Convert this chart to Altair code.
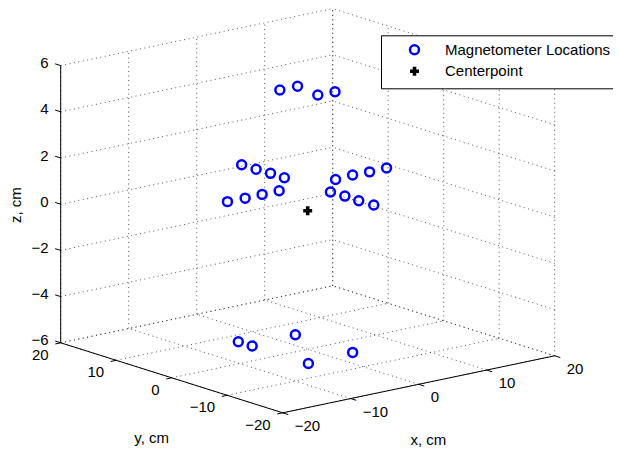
import altair as alt
import pandas as pd

# ---------------- data (cm) ----------------
mag_x = [-11.8, -9.2, -6.7, -4.2, 4.1, 6.6, 9.1, 11.6,
         0.0, 0.0, 0.0, 0.0, 0.0, 0.0, 0.0, 0.0,
         -2.3, 0.3, -0.35, 2.1,
         -4.0, -4.0, 3.0, -3.9, 3.1]
mag_y = [0.0, 0.0, 0.0, 0.0, 0.0, 0.0, 0.0, 0.0,
         11.9, 9.3, 6.7, 4.2, -4.1, -6.7, -9.2, -11.9,
         2.2, 2.2, -2.25, -2.35,
         7.6, 5.1, 5.9, -4.9, -4.3]
mag_z = [1.12, 1.11, 1.12, 1.12, 1.1, 1.14, 1.12, 1.13,
         1.09, 1.09, 1.11, 1.11, 1.12, 1.14, 1.13, 1.15,
         5.2, 5.2, 5.2, 5.2,
         -6.0, -6.0, -6.0, -6.0, -6.0]
center_x = [0.0]
center_y = [0.0]
center_z = [0.0]

x_ticks = [-20, -10, 0, 10, 20]
y_ticks = [-20, -10, 0, 10, 20]
z_ticks = [-6, -4, -2, 0, 2, 4, 6]
x_tick_labels = ["\u221220", "\u221210", "0", "10", "20"]
y_tick_labels = ["\u221220", "\u221210", "0", "10", "20"]
z_tick_labels = ["\u22126", "\u22124", "\u22122", "0", "2", "4", "6"]
series_names = ["Magnetometer Locations", "Centerpoint"]

XMIN, XMAX = -20, 20
YMIN, YMAX = -20, 20
ZMIN, ZMAX = -6, 6

# ---------------- 3-D view projection (az = -37.5, el = 30 look) ----------------
RIGHT = (6.8, -5.55, 0.0)   # screen units to the right per cm of x, y, z
UP = (1.425, 1.75, 23.1)    # screen units upwards per cm of x, y, z


def proj(x, y, z):
    return (RIGHT[0] * x + RIGHT[1] * y + RIGHT[2] * z,
            UP[0] * x + UP[1] * y + UP[2] * z)


W, H = 605, 443
xs = alt.Scale(domain=[-299.7, 305.3], nice=False, zero=False)
ys = alt.Scale(domain=[-240.3, 202.7], nice=False, zero=False)


def seg_rows(segs):
    rows = []
    for (a, b) in segs:
        u, v = proj(*a)
        u2, v2 = proj(*b)
        rows.append({"u": u, "v": v, "u2": u2, "v2": v2})
    return pd.DataFrame(rows)


# grid lines on floor and two back walls
grid = []
for xv in x_ticks:
    grid.append(((xv, YMIN, ZMIN), (xv, YMAX, ZMIN)))
    grid.append(((xv, YMAX, ZMIN), (xv, YMAX, ZMAX)))
for yv in y_ticks:
    grid.append(((XMIN, yv, ZMIN), (XMAX, yv, ZMIN)))
    grid.append(((XMAX, yv, ZMIN), (XMAX, yv, ZMAX)))
for zv in z_ticks:
    grid.append(((XMIN, YMAX, zv), (XMAX, YMAX, zv)))
    grid.append(((XMAX, YMIN, zv), (XMAX, YMAX, zv)))
grid_df = seg_rows(grid)

axes_df = seg_rows([
    ((XMIN, YMAX, ZMIN), (XMIN, YMAX, ZMAX)),   # z axis
    ((XMIN, YMAX, ZMIN), (XMIN, YMIN, ZMIN)),   # y axis
    ((XMIN, YMIN, ZMIN), (XMAX, YMIN, ZMIN)),   # x axis
])

ticks = []
for zv in z_ticks:
    ticks.append(((XMIN, YMAX, zv), (XMIN, YMAX + 1.0, zv)))
for xv in x_ticks:
    ticks.append(((xv, YMIN, ZMIN), (xv, YMIN - 1.0, ZMIN)))
for yv in y_ticks:
    ticks.append(((XMIN, yv, ZMIN), (XMIN - 0.8, yv, ZMIN)))
ticks_df = seg_rows(ticks)


def label_df(points, labels):
    rows = []
    for p, t in zip(points, labels):
        u, v = proj(*p)
        rows.append({"u": u, "v": v, "t": t})
    return pd.DataFrame(rows)


zlab_df = label_df([(XMIN, YMAX, z) for z in z_ticks], z_tick_labels)
xlab_df = label_df([(x, YMIN, ZMIN) for x in x_ticks], x_tick_labels)
ylab_df = label_df([(XMIN, y, ZMIN) for y in y_ticks], y_tick_labels)
ztitle_df = label_df([(XMIN, YMAX, 0)], ["z, cm"])
ytitle_df = label_df([(XMIN, 0, ZMIN)], ["y, cm"])
xtitle_df = label_df([(0, YMIN, ZMIN)], ["x, cm"])

pts = []
for x, y, z in zip(mag_x, mag_y, mag_z):
    u, v = proj(x, y, z)
    pts.append({"u": u, "v": v, "series": series_names[0]})
for x, y, z in zip(center_x, center_y, center_z):
    u, v = proj(x, y, z)
    pts.append({"u": u, "v": v, "series": series_names[1]})
pts_df = pd.DataFrame(pts)

FONT = "Liberation Sans"
X = alt.X("u:Q", scale=xs, axis=None)
Y = alt.Y("v:Q", scale=ys, axis=None)

grid_layer = alt.Chart(grid_df).mark_rule(
    color="#222222", strokeDash=[1, 3.5], strokeWidth=1, opacity=0.75
).encode(x=X, y=Y, x2="u2:Q", y2="v2:Q")

axes_layer = alt.Chart(axes_df).mark_rule(color="black", strokeWidth=1).encode(
    x=X, y=Y, x2="u2:Q", y2="v2:Q")

ticks_layer = alt.Chart(ticks_df).mark_rule(color="black", strokeWidth=1).encode(
    x=X, y=Y, x2="u2:Q", y2="v2:Q")


def text_layer(df, **kw):
    return alt.Chart(df).mark_text(font=FONT, fontSize=15, color="black",
                                   baseline="middle", **kw).encode(
        x=X, y=Y, text="t:N")


zlab = text_layer(zlab_df, align="right", dx=-12, dy=-2.5)
ylab = text_layer(ylab_df, align="right", dx=-12, dy=12)
xlab = text_layer(xlab_df, align="left", dx=12, dy=13)
# rotated text: dx runs along the text (screen up), dy across it (screen right)
ztitle = text_layer(ztitle_df, align="center", dx=-1, dy=-45, angle=270)
ytitle = text_layer(ytitle_df, align="center", dx=-20, dy=60.5)
xtitle = text_layer(xtitle_df, align="center", dx=9.6, dy=55.7)

points = alt.Chart(pts_df).mark_point(size=80, strokeWidth=2.5, opacity=1).encode(
    x=X, y=Y,
    shape=alt.Shape("series:N", scale=alt.Scale(domain=series_names, range=["circle", "cross"]),
                    legend=alt.Legend(title=None)),
    stroke=alt.Stroke("series:N", scale=alt.Scale(domain=series_names, range=["#0000ff", "transparent"]),
                      legend=alt.Legend(title=None)),
    fill=alt.Fill("series:N", scale=alt.Scale(domain=series_names, range=["transparent", "#000000"]),
                  legend=alt.Legend(title=None)),
)

chart = alt.layer(
    grid_layer, axes_layer, ticks_layer, zlab, ylab, xlab, ztitle, ytitle, xtitle, points
).properties(
    width=W, height=H, autosize=alt.AutoSizeParams(type="none"), padding=0
).configure_view(
    strokeWidth=0
).configure_legend(
    orient="none", legendX=373, legendY=27.3,
    strokeColor="black", fillColor="white", padding=7, cornerRadius=0,
    labelFont=FONT, labelFontSize=15, labelColor="black",
    symbolSize=80, symbolStrokeWidth=2.5, symbolOffset=19, labelOffset=23,
    rowPadding=2.5, labelLimit=400
)

chart.save("out.html", embed_options={"renderer": "svg", "actions": False})
